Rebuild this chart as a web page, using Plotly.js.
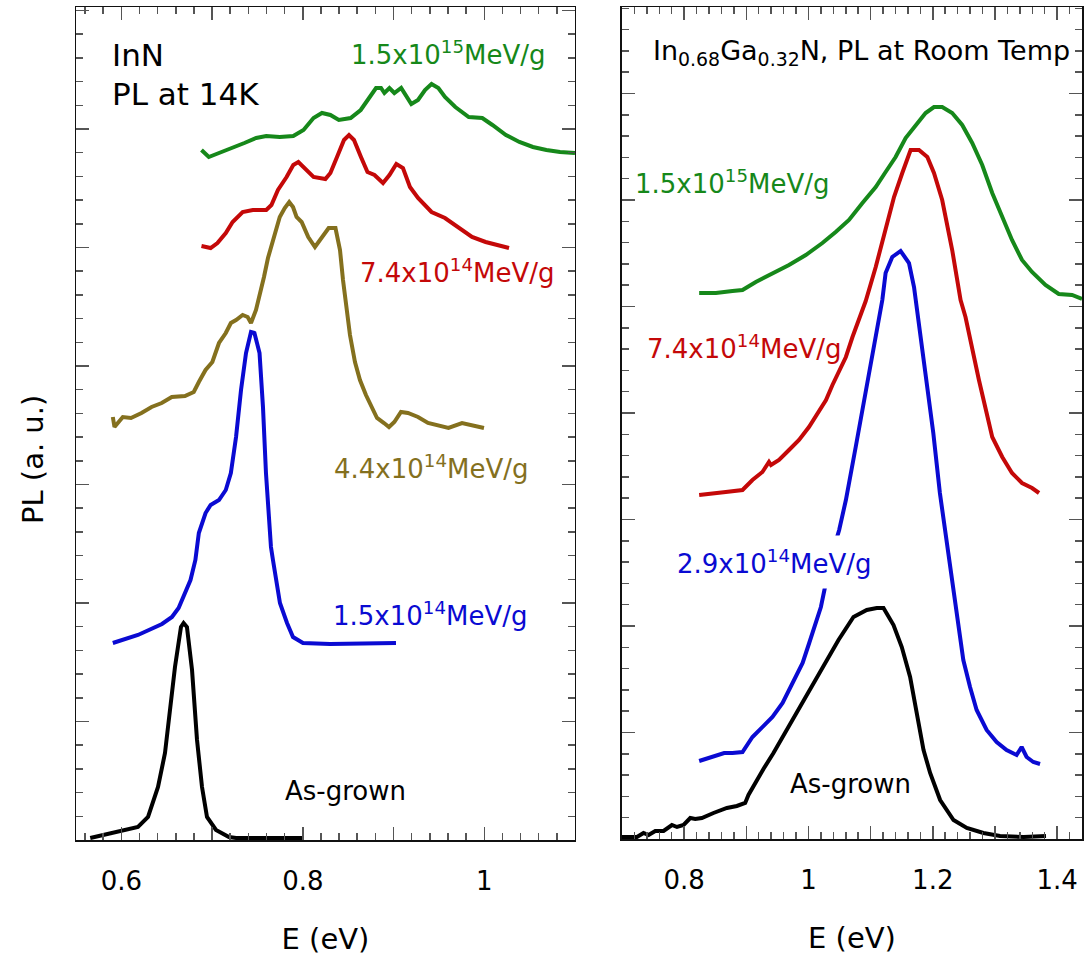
<!DOCTYPE html>
<html>
<head>
<meta charset="utf-8">
<script src="https://cdn.plot.ly/plotly-3.0.1.min.js"></script>
<style>html,body{margin:0;padding:0;background:#fff;}#chart{width:1088px;height:960px;}</style>
</head>
<body>
<div id="chart"></div>
<script>
// ---------- Left panel: InN, PL at 14K (E in eV, PL in arbitrary units) ----------
const innAsGrownE = [0.5657,0.5886,0.6183,0.6294,0.6404,0.6481,0.6536,0.6591,0.6657,0.6686,0.6723,0.6779,0.6834,0.6889,0.6944,0.7043,0.7186,0.7264,0.8002];
const innAsGrownPL = [2,7,13,23,53,87,130,173,213,217,213,170,100,53,23,10,3,2,2];

const inn15e14E = [0.5906,0.6183,0.6448,0.6558,0.6631,0.6701,0.6762,0.6816,0.6854,0.6928,0.6984,0.7076,0.7151,0.7207,0.7264,0.7319,0.7374,0.7429,0.7467,0.7523,0.7561,0.7594,0.7649,0.7671,0.7704,0.7748,0.7826,0.7892,0.8002,0.8300,0.9027];
const inn15e14PL = [197,205,216,223,232,247,260,280,307,327,335,340,350,367,403,450,487,508,507,487,433,367,293,280,260,237,217,203,197,196,197];

const inn44e14E = [0.5906,0.5924,0.6016,0.6106,0.6222,0.6333,0.6445,0.6556,0.6701,0.6798,0.6854,0.6928,0.7003,0.7076,0.7151,0.7207,0.7264,0.7337,0.7392,0.7429,0.7484,0.7528,0.7572,0.7616,0.7671,0.7746,0.7801,0.7850,0.7892,0.7931,0.7987,0.8060,0.8134,0.8211,0.8285,0.8360,0.8410,0.8443,0.8476,0.8520,0.8575,0.8630,0.8696,0.8751,0.8818,0.8895,0.8950,0.9009,0.9082,0.9159,0.9270,0.9380,0.9490,0.9606,0.9755,0.9865,0.9997];
const inn44e14PL = [423,413,423,422,427,433,437,443,444,448,458,470,478,497,507,517,520,525,523,517,530,545,563,582,600,623,632,638,633,623,618,603,593,603,612,612,590,560,535,505,478,460,445,435,422,417,413,418,428,427,423,417,415,412,417,415,412];

const inn74e14E = [0.6883,0.6984,0.7059,0.7151,0.7226,0.7337,0.7449,0.7597,0.7654,0.7726,0.7821,0.7895,0.7951,0.8024,0.8118,0.8249,0.8304,0.8377,0.8454,0.8509,0.8564,0.8641,0.8713,0.8790,0.8884,0.8955,0.9031,0.9104,0.9181,0.9270,0.9419,0.9567,0.9717,0.9865,1.0015,1.0162,1.0273];
const inn74e14PL = [594,592,597,607,618,628,630,630,635,650,663,675,678,672,663,661,667,683,700,705,700,683,668,665,657,665,676,672,653,642,628,622,612,603,598,595,592];

const inn15e15E = [0.6883,0.6964,0.7076,0.7226,0.7356,0.7486,0.7597,0.7746,0.7895,0.8008,0.8118,0.8211,0.8304,0.8397,0.8527,0.8638,0.8713,0.8807,0.8862,0.8899,0.8955,0.9009,0.9084,0.9141,0.9196,0.9270,0.9347,0.9419,0.9494,0.9567,0.9681,0.9829,0.9978,1.0090,1.0239,1.0387,1.0536,1.0685,1.0835,1.1000];
const inn15e15PL = [690,683,687,692,697,702,704,703,704,710,722,727,725,720,722,730,740,752,752,747,752,747,752,743,736,740,750,756,752,743,733,723,722,715,705,698,693,690,688,687];

// ---------- Right panel: In0.68Ga0.32N, PL at room temperature ----------
const ingaAsGrownE = [0.7000,0.7241,0.7347,0.7428,0.7536,0.7669,0.7804,0.7885,0.7991,0.8099,0.8179,0.8285,0.8472,0.8688,0.8848,0.8982,0.9035,0.9170,0.9276,0.9437,0.9651,0.9867,1.0081,1.0295,1.0483,1.0724,1.0938,1.1099,1.1207,1.1368,1.1501,1.1635,1.1743,1.1851,1.1957,1.2118,1.2333,1.2547,1.2814,1.3081,1.3461,1.3821];
const ingaAsGrownPL = [2,2,6,4,8,8,14,12,14,21,20,21,26,31,33,36,44,59,70,86,109,132,156,179,199,222,229,231,231,214,192,162,126,89,66,39,19,11,6,3,2,3];

const inga29e14E = [0.8242,0.8456,0.8644,0.8778,0.8939,0.9099,0.9260,0.9421,0.9584,0.9745,0.9906,1.0012,1.0119,1.0200,1.0280,1.0378,1.0494,1.0602,1.0760,1.0921,1.1082,1.1188,1.1241,1.1348,1.1482,1.1617,1.1698,1.1755,1.1810,1.1900,1.2008,1.2114,1.2222,1.2330,1.2410,1.2491,1.2599,1.2705,1.2866,1.3027,1.3187,1.3348,1.3429,1.3509,1.3617,1.3725];
const inga29e14PL = [78,82,86,86,87,102,112,122,136,156,176,196,216,232,256,285,309,339,392,449,505,539,566,582,588,576,552,525,506,456,406,346,299,252,212,179,152,129,109,97,89,84,92,82,77,75];

const inga74e14E = [0.8242,0.8456,0.8670,0.8939,0.9099,0.9259,0.9365,0.9397,0.9526,0.9687,0.9848,1.0008,1.0147,1.0282,1.0386,1.0494,1.0602,1.0708,1.0813,1.0921,1.1082,1.1241,1.1376,1.1509,1.1617,1.1643,1.1778,1.1912,1.2019,1.2151,1.2312,1.2447,1.2526,1.2581,1.2742,1.2956,1.3117,1.3274,1.3435,1.3596,1.3709];
const inga74e14PL = [344,346,347,349,359,367,377,374,379,389,399,412,426,439,454,467,482,502,519,538,572,612,642,666,686,689,689,682,666,639,589,539,522,506,459,402,382,366,356,351,346];

const inga15e15E = [0.8242,0.8511,0.8778,0.8939,0.9153,0.9421,0.9687,0.9957,1.0224,1.0438,1.0652,1.0868,1.1082,1.1241,1.1402,1.1563,1.1723,1.1884,1.2019,1.2151,1.2312,1.2473,1.2634,1.2795,1.2956,1.3113,1.3274,1.3435,1.3596,1.3812,1.4026,1.4240,1.4400];
const inga15e15PL = [546,546,548,549,557,565,574,584,596,607,619,636,652,667,682,701,714,726,732,732,726,714,696,674,646,622,599,579,567,554,545,544,540];

// tick labels (labelled major ticks) and unlabelled long ticks
const leftTickVals = [0.6, 0.8, 1.0];
const leftTickText = ['0.6', '0.8', '1'];
const leftPlainTicks = [0.7, 0.9];
const rightTickVals = [0.8, 1.0, 1.2, 1.4];
const rightTickText = ['0.8', '1', '1.2', '1.4'];
const rightPlainTicks = [0.7, 0.9, 1.1, 1.3];

const GREEN = '#16881a', RED = '#c40808', OLIVE = '#84701e', BLUE = '#0a0ad2', BLACK = '#000000';
const FONT = 'DejaVu Sans, Arial, sans-serif';

function tr(x, y, color, xa, ya, name) {
  return {x: x, y: y, type: 'scatter', mode: 'lines', name: name,
          line: {color: color, width: 4}, xaxis: xa, yaxis: ya, showlegend: false, hoverinfo: 'x+y'};
}

const traces = [
  tr(innAsGrownE, innAsGrownPL, BLACK, 'x', 'y', 'As-grown'),
  tr(inn15e14E, inn15e14PL, BLUE, 'x', 'y', '1.5e14'),
  tr(inn44e14E, inn44e14PL, OLIVE, 'x', 'y', '4.4e14'),
  tr(inn74e14E, inn74e14PL, RED, 'x', 'y', '7.4e14'),
  tr(inn15e15E, inn15e15PL, GREEN, 'x', 'y', '1.5e15'),
  tr(ingaAsGrownE, ingaAsGrownPL, BLACK, 'x2', 'y2', 'As-grown'),
  tr(inga29e14E, inga29e14PL, BLUE, 'x2', 'y2', '2.9e14'),
  tr(inga74e14E, inga74e14PL, RED, 'x2', 'y2', '7.4e14'),
  tr(inga15e15E, inga15e15PL, GREEN, 'x2', 'y2', '1.5e15'),
  // empty traces so the overlay tick axes get drawn
  {x: [], y: [], type: 'scatter', mode: 'lines', xaxis: 'x3', yaxis: 'y', showlegend: false, hoverinfo: 'skip'},
  {x: [], y: [], type: 'scatter', mode: 'lines', xaxis: 'x4', yaxis: 'y2', showlegend: false, hoverinfo: 'skip'}
];

const tickCol = '#555555';
function xAxis(domain, range, vals, text, anchor) {
  return {
    domain: domain, range: range, anchor: anchor,
    tickmode: 'array', tickvals: vals, ticktext: text,
    ticks: 'inside', ticklen: 13, tickwidth: 1.5, tickcolor: tickCol,
    minor: {dtick: 0.02, tick0: 0, ticks: 'inside', ticklen: 7, tickwidth: 1.5, tickcolor: tickCol},
    showline: true, linecolor: '#111', linewidth: 1.5, mirror: 'ticks',
    showgrid: false, zeroline: false,
    tickfont: {family: FONT, size: 26, color: '#000'},
    ticklabelstandoff: 17,
    title: {text: 'E (eV)', font: {family: FONT, size: 29, color: '#000'}, standoff: 34}
  };
}
function plainTickAxis(over, domain, range, vals, anchor) {
  return {
    overlaying: over, domain: domain, range: range, anchor: anchor, side: 'bottom',
    tickmode: 'array', tickvals: vals,
    ticks: 'inside', ticklen: 13, tickwidth: 1.5, tickcolor: tickCol,
    showticklabels: false, showline: false, mirror: 'ticks',
    showgrid: false, zeroline: false
  };
}
function yAxis(domain, range, major, minor, anchor) {
  return {
    domain: domain, range: range, anchor: anchor,
    tick0: 0, dtick: major,
    ticks: 'inside', ticklen: 13, tickwidth: 1.5, tickcolor: tickCol,
    minor: {dtick: minor, tick0: 0, ticks: 'inside', ticklen: 7, tickwidth: 1.5, tickcolor: tickCol},
    showline: true, linecolor: '#111', linewidth: 1.5, mirror: 'ticks',
    showgrid: false, zeroline: false, showticklabels: false
  };
}

function ann(text, x, y, color, size, xanchor, extra) {
  return Object.assign({text: text, x: x, y: y, xref: 'paper', yref: 'paper',
    xanchor: xanchor || 'center', yanchor: 'middle', showarrow: false,
    font: {family: FONT, size: size || 26, color: color}}, extra || {});
}

const layout = {
  width: 1088, height: 960,
  margin: {l: 76, r: 6, t: 7, b: 120},
  paper_bgcolor: '#fff', plot_bgcolor: '#fff',
  showlegend: false,
  xaxis: xAxis([0, 0.496], [0.55, 1.1], leftTickVals, leftTickText, 'y'),
  yaxis: yAxis([0, 1], [0, 833], 118.5, 23.7, 'x'),
  xaxis2: xAxis([0.5427, 1], [0.7, 1.44], rightTickVals, rightTickText, 'y2'),
  yaxis2: yAxis([0.0012, 1], [0, 832], 106.5, 21.3, 'x2'),
  xaxis3: plainTickAxis('x', [0, 0.496], [0.55, 1.1], leftPlainTicks, 'y'),
  xaxis4: plainTickAxis('x2', [0.5427, 1], [0.7, 1.44], rightPlainTicks, 'y2'),
  annotations: [
    ann('PL (a. u.)', -0.0427, 0.4562, '#000', 29, 'center', {textangle: -90}),
    ann('InN', 0.0338, 0.9424, '#000', 31, 'left'),
    ann('PL at 14K', 0.0338, 0.8956, '#000', 31, 'left'),
    ann('1.5x10<sup>15</sup>MeV/g', 0.3698, 0.9448, GREEN),
    ann('7.4x10<sup>14</sup>MeV/g', 0.3787, 0.6831, RED),
    ann('4.4x10<sup>14</sup>MeV/g', 0.3529, 0.4478, OLIVE),
    ann('1.5x10<sup>14</sup>MeV/g', 0.3519, 0.2713, BLUE),
    ann('As-grown', 0.2674, 0.0588, '#000'),
    ann('In<sub>0.68</sub>Ga<sub>0.32</sub>N, PL at Room Temp', 0.5716, 0.9448, '#000', 27, 'left'),
    ann('1.5x10<sup>15</sup>MeV/g', 0.6518, 0.7899, GREEN),
    ann('7.4x10<sup>14</sup>MeV/g', 0.6645, 0.5918, RED),
    ann('2.9x10<sup>14</sup>MeV/g', 0.6943, 0.3337, BLUE, 26, 'center', {bgcolor: '#ffffff', borderpad: 9}),
    ann('As-grown', 0.7694, 0.0672, '#000')
  ]
};

Plotly.newPlot('chart', traces, layout, {displayModeBar: false, staticPlot: true});
</script>
</body>
</html>
